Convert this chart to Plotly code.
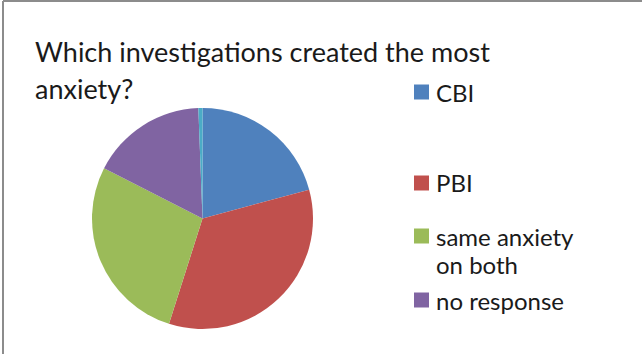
import plotly.graph_objects as go

W, H = 642, 354

# datos
labels = ['CBI', 'PBI', 'same anxiety on both', 'no response', 'other']
values = [20.8, 34.1, 27.6, 16.9, 0.6]
colors = ['#4F81BD', '#C0504D', '#9BBB59', '#8064A2', '#4BACC6']
legend_lines = [['CBI'], ['PBI'], ['same anxiety', 'on both'], ['no response']]
title_lines = ['Which investigations created the most', 'anxiety?']


def px_x(x):
    return x / W


def px_y(y):
    return 1 - y / H


fig = go.Figure()
fig.add_trace(go.Pie(
    labels=labels,
    values=values,
    marker=dict(colors=colors, line=dict(width=0)),
    sort=False,
    direction='clockwise',
    rotation=0,
    textinfo='none',
    hoverinfo='label+percent',
    showlegend=False,
    domain=dict(x=[px_x(92), px_x(313)], y=[px_y(329), px_y(108)]),
))

annotations = []
shapes = []

# titulo
for i, line in enumerate(title_lines):
    annotations.append(dict(
        text=line, x=px_x(33), y=px_y(52 + i * 36),
        xref='paper', yref='paper', xanchor='left', yanchor='middle',
        showarrow=False, font=dict(family='Lato', size=27, color='#1a1a1a'),
    ))

# leyenda hecha a mano (la quinta porcion no aparece)
legend_mid = [92, 183, 236, 300]
for item, mid, col in zip(legend_lines, legend_mid, colors):
    shapes.append(dict(
        type='rect', xref='paper', yref='paper',
        x0=px_x(414), x1=px_x(429), y0=px_y(mid + 7.5), y1=px_y(mid - 7.5),
        fillcolor=col, line=dict(width=0),
    ))
    for j, line in enumerate(item):
        annotations.append(dict(
            text=line, x=px_x(434), y=px_y(mid + j * 28),
            xref='paper', yref='paper', xanchor='left', yanchor='middle',
            showarrow=False, font=dict(family='Lato', size=24, color='#1a1a1a'),
        ))

# borde gris (arriba e izquierda)
shapes.append(dict(type='line', xref='paper', yref='paper',
                   x0=px_x(3), x1=1, y0=px_y(1), y1=px_y(1),
                   line=dict(color='#8c8c8c', width=2)))
shapes.append(dict(type='line', xref='paper', yref='paper',
                   x0=px_x(3), x1=px_x(3), y0=0, y1=px_y(1),
                   line=dict(color='#8c8c8c', width=2)))

fig.update_layout(
    width=W, height=H,
    margin=dict(l=0, r=0, t=0, b=0),
    paper_bgcolor='white',
    plot_bgcolor='white',
    annotations=annotations,
    shapes=shapes,
)

fig.write_html("out.html", config={'displayModeBar': False},
               post_script="document.body.style.margin='0';")
